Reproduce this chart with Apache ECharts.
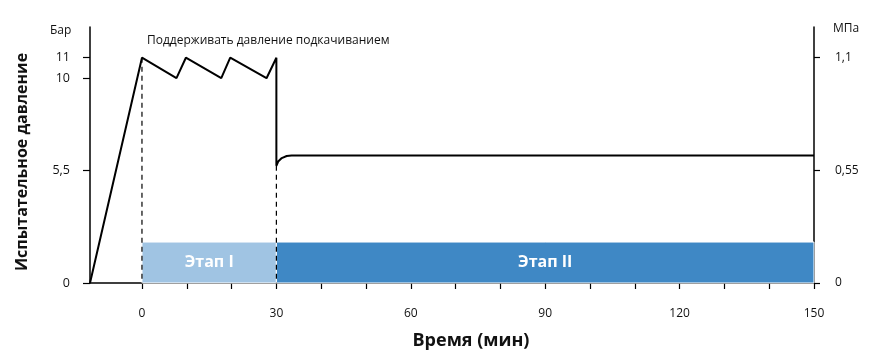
<!DOCTYPE html>
<html><head><meta charset="utf-8">
<script src="https://cdn.jsdelivr.net/npm/echarts@6/dist/echarts.min.js"></script>
<style>html,body{margin:0;padding:0;background:#fff}#c{width:869px;height:360px}</style>
</head><body><div id="c"></div>
<script>
// Data
const timeMin     = [-11.6, 0, 7.7, 9.8, 17.7, 19.7, 27.8, 30, 30, 30.4, 31.2, 32.3, 33.4, 150];
const pressureBar = [0, 11, 10, 11, 10, 11, 10, 11, 5.72, 5.93, 6.10, 6.20, 6.23, 6.23];
const dash1X = [0, 0],   dash1Y = [11, 0];
const dash2X = [30, 30], dash2Y = [5.72, 0];
const stageNames = ['Этап I', 'Этап II'];
const stageStart = [0, 30];
const stageEnd   = [30, 150];
const stageTop   = 2;
const xTicks  = [0,10,20,30,40,50,60,70,80,90,100,110,120,130,140,150];
const xLabels = [0,30,60,90,120,150];
const yBarLabels = [0, 5.5, 10, 11];
const yMpaLabels = [0, 0.55, 1.1];
const annotation = 'Поддерживать давление подкачиванием';

const FONT = '"Open Sans", "Noto Sans", sans-serif';
const stageColors = ['#a0c4e3', '#3f88c5'];
const zip = (a, b) => a.map((v, i) => [v, b[i]]);
const comma = v => String(v).replace('.', ',');

const chart = echarts.init(document.getElementById('c'), null, {renderer: 'canvas'});
chart.setOption({
  animation: false,
  textStyle: {fontFamily: FONT},
  grid: {left: 90, right: 55, top: 27, bottom: 77},
  xAxis: {
    type: 'value', min: -11.6, max: 150,
    axisLine: {lineStyle: {color: '#000', width: 1.5}},
    axisTick: {customValues: xTicks, length: 6, lineStyle: {color: '#000', width: 1.2}},
    axisLabel: {customValues: xLabels, margin: 25, color: '#111', fontSize: 12, fontFamily: FONT},
    splitLine: {show: false}
  },
  yAxis: [{
    type: 'value', min: 0, max: 12.5, position: 'left',
    axisLine: {show: true, onZero: false, lineStyle: {color: '#000', width: 1.5}},
    axisTick: {show: true, customValues: yBarLabels, length: 7, lineStyle: {color: '#000', width: 1.2}},
    axisLabel: {customValues: yBarLabels, margin: 20, color: '#111', fontSize: 12.5, fontFamily: FONT, formatter: comma},
    splitLine: {show: false}
  }, {
    type: 'value', min: 0, max: 1.25, position: 'right',
    axisLine: {show: true, onZero: false, lineStyle: {color: '#000', width: 1.5}},
    axisTick: {show: true, customValues: yMpaLabels, length: 6, lineStyle: {color: '#000', width: 1.2}},
    axisLabel: {customValues: yMpaLabels, margin: 21, color: '#111', fontSize: 12, fontFamily: FONT, formatter: comma},
    splitLine: {show: false}
  }],
  graphic: [
    {type: 'text', left: 50, top: 25, style: {text: 'Бар', font: '12px ' + FONT, fill: '#111'}},
    {type: 'text', left: 833, top: 23, style: {text: 'МПа', font: '12px ' + FONT, fill: '#111'}},
    {type: 'text', left: 147, top: 35, style: {text: annotation, font: '12px ' + FONT, fill: '#111'}},
    {type: 'text', x: 471, y: 341, style: {text: 'Время (мин)', font: 'bold 18px ' + FONT, fill: '#111', align: 'center', verticalAlign: 'middle'}},
    {type: 'text', x: 22, y: 162, rotation: Math.PI / 2, style: {text: 'Испытательное давление', font: 'bold 16px ' + FONT, fill: '#111', align: 'center', verticalAlign: 'middle'}}
  ],
  series: [
    {
      type: 'line', data: [], silent: true, z: 1,
      markArea: {
        silent: true,
        data: stageNames.map((n, i) => [
          {name: n, xAxis: stageStart[i], yAxis: 0, itemStyle: {color: stageColors[i], borderColor: '#fff', borderWidth: 1}},
          {xAxis: stageEnd[i], yAxis: stageTop}
        ]),
        label: {show: true, position: 'inside', color: '#fff', fontWeight: 'bold', fontSize: 16, fontFamily: FONT}
      }
    },
    {type: 'line', data: zip(dash1X, dash1Y), symbol: 'none', z: 3,
     lineStyle: {color: '#000', width: 1.2, type: [5, 4]}},
    {type: 'line', data: zip(dash2X, dash2Y), symbol: 'none', z: 3,
     lineStyle: {color: '#000', width: 1.2, type: [5, 4]}},
    {type: 'line', data: zip(timeMin, pressureBar), symbol: 'none', smooth: false, z: 4,
     lineStyle: {color: '#000', width: 2}}
  ]
});
</script></body></html>
